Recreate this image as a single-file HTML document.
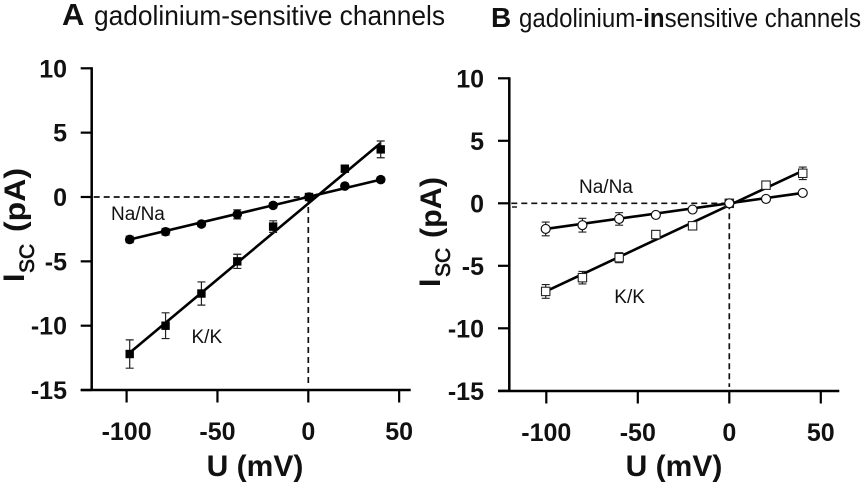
<!DOCTYPE html>
<html lang="en">
<head>
<meta charset="utf-8">
<title>Gadolinium-sensitive and -insensitive channels</title>
<style>
html,body{margin:0;padding:0;background:#fff;}
svg{display:block;font-family:"Liberation Sans",sans-serif;filter:blur(0.35px);}
</style>
</head>
<body>
<svg id="figure" xmlns="http://www.w3.org/2000/svg" width="865" height="488" viewBox="0 0 865 488">
  <rect width="865" height="488" fill="#fff"/>
  <text x="62" y="25" font-size="31" font-weight="700" fill="#111">A</text>
  <text x="94" y="25" font-size="28" fill="#111" textLength="351" lengthAdjust="spacingAndGlyphs">gadolinium-sensitive channels</text>
  <text x="491" y="27" font-size="28" font-weight="700" fill="#111">B</text>
  <text x="519" y="27" font-size="25.5" fill="#111" textLength="342" lengthAdjust="spacingAndGlyphs">gadolinium-<tspan font-weight="700">in</tspan>sensitive channels</text>
  <line x1="512" y1="207" x2="517" y2="207" stroke="#111" stroke-width="1.4"/>
</svg>
<script>
const uValues = [-100, -80, -60, -40, -20, 0, 20, 40];
const xTicks = [-100, -50, 0, 50];
const yTicks = [10, 5, 0, -5, -10, -15];
const fitU = [-100, 40];

const aNaMeans = [-3.3, -2.7, -2.1, -1.35, -0.65, 0, 0.85, 1.35];
const aNaErrors = [0.25, 0.25, 0.2, 0.35, 0.2, 0.15, 0.15, 0.2];
const aNaFit = [-3.3, 1.35];
const aKMeans = [-12.2, -10, -7.5, -5, -2.3, 0, 2.2, 3.7];
const aKErrors = [1.1, 1, 0.9, 0.55, 0.45, 0.1, 0.25, 0.65];
const aKFit = [-12.1, 4.2];

const bNaMeans = [-2.05, -1.75, -1.25, -0.93, -0.5, 0, 0.35, 0.83];
const bNaErrors = [0.55, 0.55, 0.5, 0.15, 0.15, 0.1, 0.1, 0.1];
const bNaFit = [-2.05, 0.83];
const bKMeans = [-7.05, -5.95, -4.35, -2.5, -1.8, 0, 1.45, 2.4];
const bKErrors = [0.55, 0.5, 0.4, 0.15, 0.15, 0.1, 0.1, 0.5];
const bKFit = [-7.05, 2.6];

const NS = 'http://www.w3.org/2000/svg';
const root = document.getElementById('figure');

function make(parent, tag, attrs, text) {
  const el = document.createElementNS(NS, tag);
  for (const k in attrs) el.setAttribute(k, attrs[k]);
  if (text !== undefined) el.textContent = text;
  parent.appendChild(el);
  return el;
}

function drawSeries(g, p, key, means, errors, fit, marker) {
  const sx = p.dataX, sy = p.sy;
  const line = make(g, 'line', {x1: sx(fitU[0]), y1: sy(fit[0]), x2: sx(fitU[1]), y2: sy(fit[1]), stroke: '#000', 'stroke-width': 2.6});
  
  
  uValues.forEach(function (u, i) {
    const x = sx(u), y = sy(means[i]);
    const top = sy(means[i] + errors[i]), bottom = sy(means[i] - errors[i]);
    const err = make(g, 'path', {
      d: 'M' + x + ' ' + top + 'V' + bottom + 'M' + (x - 4) + ' ' + top + 'H' + (x + 4) + 'M' + (x - 4) + ' ' + bottom + 'H' + (x + 4),
      stroke: '#222', 'stroke-width': 1.2, fill: 'none'
    });
    
    
    let mark;
    if (marker === 'square') {
      mark = make(g, 'rect', {x: x - 4.2, y: y - 4.2, width: 8.4, height: 8.4, fill: p.filled ? '#000' : '#fff', stroke: p.filled ? 'none' : '#222', 'stroke-width': 1.1});
    } else {
      mark = make(g, 'circle', {cx: x, cy: y, r: p.filled ? 4.8 : 4.5, fill: p.filled ? '#000' : '#fff', stroke: p.filled ? 'none' : '#111', 'stroke-width': 1.2});
    }
    
    
  });
}

function drawPanel(p) {
  const sx = function (v) { return p.x0 + v * p.xScale; };
  const sy = function (v) { return p.y0 - v * p.yScale; };
  p.sx = sx; p.sy = sy;
  p.dataX = function (v) { return p.dataX0 + v * p.dataXScale; };
  const g = make(root, 'g', {});
  
  

  const hz = make(g, 'line', {x1: p.axisX + 2, y1: sy(0), x2: sx(0), y2: sy(0), stroke: '#111', 'stroke-width': 1.7, 'stroke-dasharray': '6 4'});
  
  
  const vt = make(g, 'line', {x1: sx(0), y1: sy(0), x2: sx(0), y2: p.axisY - 4, stroke: '#111', 'stroke-width': 1.7, 'stroke-dasharray': '6 4'});
  
  

  const yAxis = make(g, 'line', {x1: p.axisX, y1: sy(10) - 1, x2: p.axisX, y2: p.axisY + 1, stroke: '#000', 'stroke-width': 2.5});
  
  
  const xAxis = make(g, 'line', {x1: p.tickLeft, y1: p.axisY, x2: p.axisEnd, y2: p.axisY, stroke: '#000', 'stroke-width': 2.5});
  
  

  yTicks.forEach(function (t) {
    const tick = make(g, 'line', {x1: p.tickLeft, y1: sy(t), x2: p.axisX, y2: sy(t), stroke: '#000', 'stroke-width': 2.2});
    
    
    const label = make(g, 'text', {x: p.yLabelEnd, y: sy(t) + 9, 'text-anchor': 'end', 'font-size': 25, 'font-weight': 700, fill: '#111'}, String(t));
    
    
  });
  xTicks.forEach(function (t) {
    const tick = make(g, 'line', {x1: sx(t), y1: p.axisY, x2: sx(t), y2: p.axisY + 12.5, stroke: '#000', 'stroke-width': 2.2});
    
    
    const label = make(g, 'text', {x: sx(t), y: p.xLabelY, 'text-anchor': 'middle', 'font-size': 25, 'font-weight': 700, fill: '#111'}, String(t));
    
    
  });

  const xTitle = make(g, 'text', {x: p.xTitleX, y: 476, 'text-anchor': 'middle', 'font-size': 30, 'font-weight': 700, fill: '#111'}, 'U (mV)');
  
  

  const yI = make(g, 'text', {transform: 'translate(' + p.yTitleX + ' ' + p.yTitleI + ') rotate(-90)', 'font-size': 30, 'font-weight': 700, fill: '#111'}, 'I');
  
  
  const yS = make(g, 'text', {transform: 'translate(' + (p.yTitleX + 10) + ' ' + p.yTitleS + ') rotate(-90)', 'font-size': 21, 'font-weight': 400, stroke: '#111', 'stroke-width': 0.7, fill: '#111'}, 'SC');
  
  
  const yU = make(g, 'text', {transform: 'translate(' + (p.yTitleX + 1) + ' ' + p.yTitleU + ') rotate(-90)', 'font-size': 30, 'font-weight': 700, fill: '#111', textLength: p.yTitleLen, lengthAdjust: 'spacingAndGlyphs'}, '(pA)');
  
  

  drawSeries(g, p, p.id + '-k-k', p.kMeans, p.kErrors, p.kFit, 'square');
  drawSeries(g, p, p.id + '-na-na', p.naMeans, p.naErrors, p.naFit, p.naMarker);

  const na = make(g, 'text', {x: p.naX, y: p.naY, 'font-size': 19, fill: '#111'}, 'Na/Na');
  
  
  const k = make(g, 'text', {x: p.kX, y: p.kY, 'font-size': 19, fill: '#111'}, 'K/K');
  
  
}

drawPanel({
  id: 'panel-a', x0: 308.3, y0: 197, xScale: 1.817, yScale: 12.87,
  dataX0: 309, dataXScale: 1.793,
  axisX: 91.7, axisY: 390, axisEnd: 410.7, tickLeft: 80.7,
  yLabelEnd: 67, xLabelY: 440, xTitleX: 255,
  yTitleX: 24, yTitleI: 282, yTitleS: 273, yTitleU: 232, yTitleLen: 64,
  naMeans: aNaMeans, naErrors: aNaErrors, naFit: aNaFit,
  kMeans: aKMeans, kErrors: aKErrors, kFit: aKFit,
  filled: true, naMarker: 'circle',
  naX: 111, naY: 220, kX: 191.5, kY: 343
});
drawPanel({
  id: 'panel-b', x0: 729.3, y0: 203.3, xScale: 1.83, yScale: 12.5,
  dataX0: 729.3, dataXScale: 1.836,
  axisX: 509.3, axisY: 391, axisEnd: 839.3, tickLeft: 498,
  yLabelEnd: 484, xLabelY: 441, xTitleX: 674,
  yTitleX: 440, yTitleI: 287, yTitleS: 277, yTitleU: 238, yTitleLen: 61,
  naMeans: bNaMeans, naErrors: bNaErrors, naFit: bNaFit,
  kMeans: bKMeans, kErrors: bKErrors, kFit: bKFit,
  filled: false, naMarker: 'circle',
  naX: 579, naY: 193, kX: 614.3, kY: 303
});
</script>
</body>
</html>
